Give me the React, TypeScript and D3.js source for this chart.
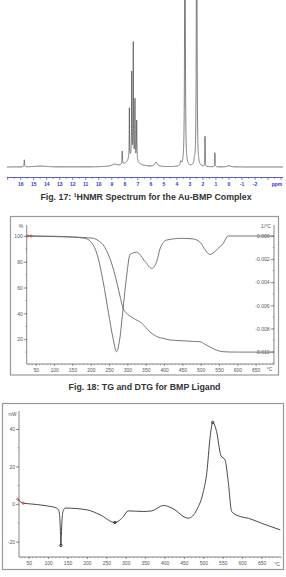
import { useRef, useEffect } from 'react';
import * as d3 from 'd3';

// 1H NMR peak list (ppm, height, half width)
const nmrPeakPpm = [15.72, 14.5, 8.8, 8.2, 7.65, 7.47, 7.45, 7.35, 7.22, 7.09, 5.6, 3.7, 3.38, 2.66, 2.48, 1.84, 1.08, 0.0];
const nmrPeakHeight = [4.2, 0.5, 1.2, 8, 30, 50, 6, 68, 35, 24, 2.5, 2.4, 320, 2.5, 320, 18, 8.4, 0.7];
const nmrPeakWidth = [0.02, 0.6, 0.25, 0.02, 0.015, 0.015, 0.4, 0.015, 0.015, 0.02, 0.12, 0.05, 0.02, 0.03, 0.02, 0.012, 0.015, 0.15];
const nmrTicks = [16, 15, 14, 13, 12, 11, 10, 9, 8, 7, 6, 5, 4, 3, 2, 1, 0, -1, -2];

// TG (%) and DTG (1/°C) for BMP ligand
const tgTemp = [25, 100, 150, 175, 200, 207, 220, 234, 252, 266, 279, 288, 298, 316, 339, 361, 380, 400, 416, 450, 480, 498, 512, 525, 543, 561, 600, 650, 700];
const tgMass = [100, 99.8, 99.3, 98.9, 98.4, 98.2, 96.5, 93, 82.7, 69.8, 54.3, 44, 40.1, 36.3, 32.4, 25.8, 22, 20.5, 19.4, 18.8, 18.3, 18, 16, 14, 11.6, 10.3, 10, 10, 10];
const dtgTemp = [25, 100, 150, 184, 207, 220, 234, 248, 261, 270, 279, 288, 298, 307, 325, 348, 366, 380, 389, 407, 450, 480, 500, 510, 525, 540, 550, 560, 575, 600, 700];
const dtgVal = [0, -0.00005, -0.0001, -0.0002, -0.0008, -0.0019, -0.004, -0.0066, -0.0089, -0.01, -0.0089, -0.0063, -0.0034, -0.0016, -0.0014, -0.0022, -0.0028, -0.0022, -0.0011, -0.00035, -0.0002, -0.00026, -0.0006, -0.0011, -0.0016, -0.0013, -0.001, -0.0007, 0, 0, 0];
const tgLeftTicks = [20, 40, 60, 80, 100];
const dtgRightTicks = [0, -0.002, -0.004, -0.006, -0.008, -0.01];
const tempTicks = [50, 100, 150, 200, 250, 300, 350, 400, 450, 500, 550, 600, 650];

// DSC (mW)
const dscTemp = [22, 36, 50, 96, 122, 127, 130, 132, 133, 134, 136, 139, 144, 199, 234, 272, 294, 306, 345, 367, 397, 419, 461, 483, 500, 509, 517, 524, 534, 545, 556, 564, 573, 595, 616, 650, 698];
const dscVal = [2.6, 0.5, 0.2, -0.9, -2.1, -3.2, -7, -16, -22, -17, -8, -3.5, -2.1, -3, -5.7, -9.8, -6.6, -3.6, -3.9, -3.6, -0.7, -2.1, -7.5, -3, 6.7, 17, 35, 43.5, 38.7, 26, 23.4, 12, -4, -6.6, -7.5, -10.2, -13.7];
const dscTicks = [-20, 0, 20, 40];

const FONT = 'Liberation Sans, Arial, sans-serif';

const App = () => {
  const svgRef = useRef<SVGSVGElement>(null);

  useEffect(() => {
    const svg = d3.select(svgRef.current);
    svg.selectAll('*').remove();

    // ---------- NMR ----------
    const xN = d3.scaleLinear().domain([17.05, -4.15]).range([7, 283]);
    const yN = d3.scaleLinear().domain([0, 100]).range([167, 0]);
    const ppms = d3.range(17.05, -4.15, -0.003).concat(nmrPeakPpm).sort((a, b) => b - a);
    const spec: [number, number][] = ppms.map((p) => {
      let s = 0;
      nmrPeakPpm.forEach((c, i) => {
        const g = nmrPeakWidth[i];
        s += (nmrPeakHeight[i] * g * g) / ((p - c) * (p - c) + g * g);
      });
      return [p, s];
    });
    svg.append('path')
      .datum(spec)
      .attr('fill', 'none')
      .attr('stroke', '#4a4a4a')
      .attr('stroke-width', 0.7)
      .attr('d', d3.line<[number, number]>().x((d) => xN(d[0])).y((d) => Math.max(-5, yN(d[1]))));

    const nmrAxisY = 177.5;
    const blue = '#3434c8';
    svg.append('line')
      .attr('x1', xN(17.05)).attr('x2', xN(-4.15))
      .attr('y1', nmrAxisY).attr('y2', nmrAxisY)
      .attr('stroke', blue).attr('stroke-width', 0.8);
    svg.append('g')
      .selectAll('line')
      .data(d3.range(17, -4.1, -0.5))
      .join('line')
      .attr('x1', (d) => xN(d)).attr('x2', (d) => xN(d))
      .attr('y1', nmrAxisY)
      .attr('y2', (d) => nmrAxisY + (Number.isInteger(d) ? 2.5 : 1.3))
      .attr('stroke', blue).attr('stroke-width', 0.6);
    svg.append('g')
      .selectAll('text')
      .data(nmrTicks)
      .join('text')
      .attr('x', (d) => xN(d))
      .attr('y', 185.8)
      .attr('text-anchor', 'middle')
      .attr('font-family', FONT)
      .attr('font-size', 5)
      .attr('font-weight', 'bold')
      .attr('fill', blue)
      .text((d) => String(d));
    svg.append('text')
      .attr('x', 277).attr('y', 185.8)
      .attr('text-anchor', 'middle')
      .attr('font-family', FONT).attr('font-size', 5).attr('font-weight', 'bold')
      .attr('fill', blue)
      .text('ppm');

    const caption = (x: number, y: number, txt: string) =>
      svg.append('text')
        .attr('x', x).attr('y', y)
        .attr('text-anchor', 'middle')
        .attr('font-family', FONT)
        .attr('font-size', 8.8)
        .attr('font-weight', 'bold')
        .attr('fill', '#333')
        .text(txt);
    caption(146, 199.5, 'Fig. 17: \u00b9HNMR Spectrum for the Au-BMP Complex');
    caption(144.5, 389.5, 'Fig. 18: TG and DTG for BMP Ligand');

    const styleAxis = (g: any) => {
      g.select('.domain').remove();
      g.selectAll('line').attr('stroke', '#555').attr('stroke-width', 0.6);
      g.selectAll('text').attr('font-family', FONT).attr('font-size', 5).attr('fill', '#555');
    };

    // ---------- TG / DTG ----------
    svg.append('rect')
      .attr('x', 10.5).attr('y', 216.5).attr('width', 268).attr('height', 158.5)
      .attr('fill', 'none').attr('stroke', '#999').attr('stroke-width', 1.2);

    const xT = d3.scaleLinear().domain([25, 700]).range([26.7, 274]);
    const yT = d3.scaleLinear().domain([0, 100]).range([365, 236]);
    const yD = d3.scaleLinear().domain([-0.01, 0]).range([351.7, 236]);
    const tTop = 225, tBot = 364;

    const axisPath = (pts: [number, number][]) =>
      svg.append('path').attr('d', d3.line()(pts)).attr('fill', 'none').attr('stroke', '#555').attr('stroke-width', 0.7);
    axisPath([[xT(25), tTop], [xT(25), tBot], [xT(700), tBot], [xT(700), tTop]]);

    svg.append('g')
      .attr('transform', `translate(0,${tBot})`)
      .call(d3.axisBottom(xT).tickValues(tempTicks).tickSize(2).tickPadding(2.2).tickFormat((d: any) => String(d)))
      .call(styleAxis);
    svg.append('g')
      .selectAll('line')
      .data(d3.range(30, 701, 10))
      .join('line')
      .attr('x1', (d) => xT(d)).attr('x2', (d) => xT(d))
      .attr('y1', tBot).attr('y2', tBot + 1.2)
      .attr('stroke', '#666').attr('stroke-width', 0.5);
    svg.append('g')
      .attr('transform', `translate(${xT(25)},0)`)
      .call(d3.axisLeft(yT).tickValues(tgLeftTicks).tickSize(3).tickPadding(1).tickFormat((d: any) => String(d)))
      .call(styleAxis);
    svg.append('g')
      .selectAll('line')
      .data(d3.range(10, 101, 10))
      .join('line')
      .attr('x1', xT(25) - 1.5).attr('x2', xT(25))
      .attr('y1', (d) => yT(d)).attr('y2', (d) => yT(d))
      .attr('stroke', '#666').attr('stroke-width', 0.5);
    svg.append('g')
      .attr('transform', `translate(${xT(700)},0)`)
      .call(d3.axisLeft(yD).tickValues(dtgRightTicks).tickSize(3.5).tickPadding(1).tickFormat((d: any) => (+d).toFixed(3)))
      .call(styleAxis);
    svg.append('g')
      .selectAll('line')
      .data(d3.range(-0.011, 0.0005, 0.001))
      .join('line')
      .attr('x1', xT(700) - 1.5).attr('x2', xT(700))
      .attr('y1', (d) => yD(d)).attr('y2', (d) => yD(d))
      .attr('stroke', '#666').attr('stroke-width', 0.5);
    svg.append('text').attr('x', 21).attr('y', 227.5).attr('text-anchor', 'middle')
      .attr('font-family', FONT).attr('font-size', 5).attr('fill', '#555').text('%');
    svg.append('text').attr('x', 266).attr('y', 227.5).attr('text-anchor', 'middle')
      .attr('font-family', FONT).attr('font-size', 5).attr('fill', '#555').text('1/\u00b0C');
    svg.append('text').attr('x', 269.5).attr('y', 371.3).attr('text-anchor', 'middle')
      .attr('font-family', FONT).attr('font-size', 5).attr('fill', '#555').text('\u00b0C');

    const tgLine = d3.line<number>().curve(d3.curveMonotoneX).x((d, i) => xT(tgTemp[i])).y((d) => yT(d));
    const dtgLine = d3.line<number>().curve(d3.curveMonotoneX).x((d, i) => xT(dtgTemp[i])).y((d) => yD(d));
    svg.append('path').datum(tgMass).attr('d', tgLine).attr('fill', 'none').attr('stroke', '#666').attr('stroke-width', 0.9);
    svg.append('path').datum(dtgVal).attr('d', dtgLine).attr('fill', 'none').attr('stroke', '#666').attr('stroke-width', 0.9);
    svg.append('g')
      .selectAll('circle')
      .data([28, 37])
      .join('circle')
      .attr('cx', (d) => xT(d)).attr('cy', yT(100)).attr('r', 1.1)
      .attr('fill', 'none').attr('stroke', '#d23030').attr('stroke-width', 0.7);

    // ---------- DSC ----------
    svg.append('rect')
      .attr('x', 2.5).attr('y', 403.5).attr('width', 281).attr('height', 166)
      .attr('fill', 'none').attr('stroke', '#999').attr('stroke-width', 1.2);

    const xS = d3.scaleLinear().domain([25, 700]).range([19, 281]);
    const yS = d3.scaleLinear().domain([-20, 40]).range([541.7, 429]);
    const sTop = 411, sBot = 557;
    axisPath([[xS(25), sTop], [xS(25), sBot], [xS(700), sBot]]);

    svg.append('g')
      .attr('transform', `translate(0,${sBot})`)
      .call(d3.axisBottom(xS).tickValues(tempTicks).tickSize(2).tickPadding(2.5).tickFormat((d: any) => String(d)))
      .call(styleAxis);
    svg.append('g')
      .selectAll('line')
      .data(d3.range(30, 701, 10))
      .join('line')
      .attr('x1', (d) => xS(d)).attr('x2', (d) => xS(d))
      .attr('y1', sBot).attr('y2', sBot + 1.2)
      .attr('stroke', '#666').attr('stroke-width', 0.5);
    svg.append('g')
      .attr('transform', `translate(${xS(25)},0)`)
      .call(d3.axisLeft(yS).tickValues(dscTicks).tickSize(3).tickPadding(1).tickFormat((d: any) => String(d)))
      .call(styleAxis);
    svg.append('g')
      .selectAll('line')
      .data(d3.range(-20, 50, 10))
      .join('line')
      .attr('x1', xS(25) - 1.5).attr('x2', xS(25))
      .attr('y1', (d) => yS(d)).attr('y2', (d) => yS(d))
      .attr('stroke', '#666').attr('stroke-width', 0.5);
    svg.append('text').attr('x', 12.5).attr('y', 415.5).attr('text-anchor', 'middle')
      .attr('font-family', FONT).attr('font-size', 4.5).attr('fill', '#555').text('mW');
    svg.append('text').attr('x', 277).attr('y', 566).attr('text-anchor', 'middle')
      .attr('font-family', FONT).attr('font-size', 5).attr('fill', '#555').text('\u00b0C');

    const dscLine = d3.line<number>().curve(d3.curveMonotoneX).x((d, i) => xS(dscTemp[i])).y((d) => yS(d));
    svg.append('path').datum(dscVal).attr('d', dscLine).attr('fill', 'none').attr('stroke', '#333').attr('stroke-width', 0.9);
    svg.append('g')
      .selectAll('circle')
      .data([0, 1])
      .join('circle')
      .attr('cx', (i) => xS(dscTemp[i])).attr('cy', (i) => yS(dscVal[i])).attr('r', 1.1)
      .attr('fill', 'none').attr('stroke', '#d23030').attr('stroke-width', 0.7);
    svg.append('g')
      .selectAll('circle')
      .data([8, 15, 27])
      .join('circle')
      .attr('cx', (i) => xS(dscTemp[i])).attr('cy', (i) => yS(dscVal[i])).attr('r', 1.2)
      .attr('fill', 'none').attr('stroke', '#111').attr('stroke-width', 0.8);
  }, []);

  return (
    <svg
      ref={svgRef}
      width={286}
      height={577}
      style={{ position: 'absolute', left: 0, top: 0, background: '#fff' }}
    />
  );
};

export default App;
